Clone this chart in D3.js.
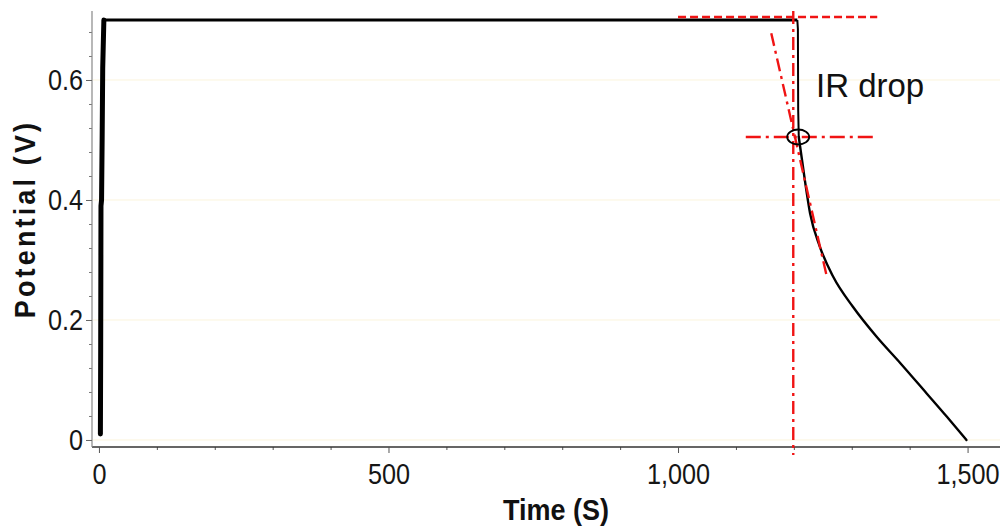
<!DOCTYPE html>
<html>
<head>
<meta charset="utf-8">
<script src="https://cdn.jsdelivr.net/npm/d3@7"></script>
<style>
  body { margin: 0; background: #fff; }
  .tickLb { font-family: "Liberation Sans", Arial, sans-serif; font-size: 29px; fill: #161616; }
  .axisLb { font-family: "Liberation Sans", Arial, sans-serif; font-weight: bold; font-size: 30px; fill: #111; }
</style>
</head>
<body>
<div id="main"></div>
<script>
// charging step (thick, noisy start)
var chargeTime = [2.5, 3, 3.5, 4.5, 5.5, 6.5, 8.5];
var chargeV    = [0.01, 0.15, 0.39, 0.40, 0.50, 0.62, 0.70];
// holding plateau
var holdTime = [8.5, 1206];
var holdV    = [0.70, 0.70];
// IR drop
var dropTime = [1206, 1207, 1207.5, 1208.5];
var dropV    = [0.70, 0.685, 0.55, 0.505];
// discharge curve
var dischargeTime = [1208.5, 1219, 1228, 1245, 1268, 1302, 1343, 1384, 1429, 1464, 1498];
var dischargeV    = [0.505, 0.433, 0.378, 0.322, 0.272, 0.222, 0.172, 0.128, 0.078, 0.039, 0.0];

// annotation lines [t1, v1, t2, v2]
var plateauRef = [1000, 0.705, 1344, 0.705];
var dropRef    = [1199, 0.715, 1199, -0.025];
var kneeRef    = [1117, 0.505, 1342, 0.505];
var tangentRef = [1161, 0.678, 1257, 0.272];
var kneePoint  = [1207.5, 0.505];

var xMajor = [0, 500, 1000, 1500];
var yMajor = [0, 0.2, 0.4, 0.6];

var ctx = { w: 1003, h: 528, SQ: 0.87 };

var createViz = function(){
    var svg = d3.select("#main").append("svg")
        .attr("width", ctx.w).attr("height", ctx.h);

    ctx.x = d3.scaleLinear().domain([-12, 1556]).range([92, 1000]);
    ctx.y = d3.scaleLinear().domain([-0.0117, 0.715]).range([447, 11]);
    var x = ctx.x, y = ctx.y;

    // faint gridlines
    svg.append("g").selectAll("line")
      .data(yMajor).enter().append("line")
      .attr("x1", 93).attr("x2", 1000)
      .attr("y1", function(d){ return y(d); })
      .attr("y2", function(d){ return y(d); })
      .style("stroke", "#fbf4dc").style("stroke-width", 1);

    // minor ticks
    var xMinor = d3.range(0, 1600, 100).filter(function(d){ return xMajor.indexOf(d) < 0; });
    var yMinor = d3.range(0, 0.70, 0.04).filter(function(d, i){ return i % 5 != 0; });
    svg.append("g").attr("transform", "translate(0,447)")
      .call(d3.axisBottom(x).tickValues(xMinor).tickSize(3).tickFormat(""))
      .call(function(g){ g.select(".domain").remove(); })
      .selectAll("line").style("stroke", "#555");
    svg.append("g").attr("transform", "translate(92,0)")
      .call(d3.axisLeft(y).tickValues(yMinor).tickSize(3).tickFormat(""))
      .call(function(g){ g.select(".domain").remove(); })
      .selectAll("line").style("stroke", "#777");

    // x axis
    var xAx = svg.append("g").attr("transform", "translate(0,447)")
      .call(d3.axisBottom(x).tickValues(xMajor).tickSize(6).tickPadding(10)
              .tickFormat(d3.format(",")));
    xAx.select(".domain").attr("d", "M92,0H1000").style("stroke", "#333").style("stroke-width", 1.5);
    xAx.selectAll("line").style("stroke", "#555");
    xAx.selectAll("text").attr("class", "tickLb").attr("font-family", null).attr("font-size", null)
      .attr("transform", "scale(" + ctx.SQ + ",1)");

    // y axis
    var yAx = svg.append("g").attr("transform", "translate(92,0)")
      .call(d3.axisLeft(y).tickValues(yMajor).tickSize(6).tickPadding(3)
              .tickFormat(function(d){ return d === 0 ? "0" : d.toFixed(1); }));
    yAx.select(".domain").attr("d", "M0,11V447").style("stroke", "#888").style("stroke-width", 1.2);
    yAx.selectAll("line").style("stroke", "#666");
    yAx.selectAll("text").attr("class", "tickLb").attr("font-family", null).attr("font-size", null)
      .attr("x", -9 / ctx.SQ)
      .attr("transform", "scale(" + ctx.SQ + ",1)");

    // axis titles
    svg.append("text").attr("class", "axisLb")
      .attr("transform", "translate(556,520) scale(0.9,1)").attr("text-anchor", "middle")
      .text("Time (S)");
    svg.append("text").attr("class", "axisLb")
      .attr("transform", "translate(35,219) rotate(-90) scale(0.9,1)")
      .attr("text-anchor", "middle").style("letter-spacing", "3.5px")
      .text("Potential (V)");

    // data lines
    var line = d3.line()
        .x(function(d){ return x(d[0]); })
        .y(function(d){ return y(d[1]); });
    var zip = function(a, b){ return a.map(function(t, i){ return [t, b[i]]; }); };

    svg.append("path").datum(zip(chargeTime, chargeV))
      .attr("d", line).style("fill", "none").style("stroke", "#000")
      .style("stroke-width", 5).style("stroke-linejoin", "round").style("stroke-linecap", "round");
    svg.append("path").datum(zip(holdTime, holdV))
      .attr("d", line).style("fill", "none").style("stroke", "#000")
      .style("stroke-width", 3);
    svg.append("path").datum(zip(dropTime, dropV))
      .attr("d", line).style("fill", "none").style("stroke", "#000")
      .style("stroke-width", 2);
    svg.append("path").datum(zip(dischargeTime, dischargeV))
      .attr("d", line.curve(d3.curveMonotoneX)).style("fill", "none").style("stroke", "#000")
      .style("stroke-width", 2.4).style("stroke-linecap", "round");

    // red construction lines
    var red = "#f01414";
    var seg = function(s, dash){
        svg.append("line")
          .attr("x1", x(s[0])).attr("y1", y(s[1]))
          .attr("x2", x(s[2])).attr("y2", y(s[3]))
          .style("stroke", red).style("stroke-width", 2.4)
          .style("stroke-dasharray", dash);
    };
    seg(plateauRef, "8,4");
    seg(dropRef, "13,5,3,5");
    seg(kneeRef, "15,5,3,5");
    seg(tangentRef, "13,5,3,5");

    // knee marker
    svg.append("ellipse")
      .attr("cx", x(kneePoint[0])).attr("cy", y(kneePoint[1]))
      .attr("rx", 11).attr("ry", 7.5)
      .style("fill", "none").style("stroke", "#000").style("stroke-width", 1.8);

    svg.append("text")
      .attr("x", 816).attr("y", 97)
      .style("font-family", "Liberation Sans, Arial, sans-serif")
      .style("font-size", "33px").style("fill", "#111")
      .text("IR drop");
};

createViz();
</script>
</body>
</html>
